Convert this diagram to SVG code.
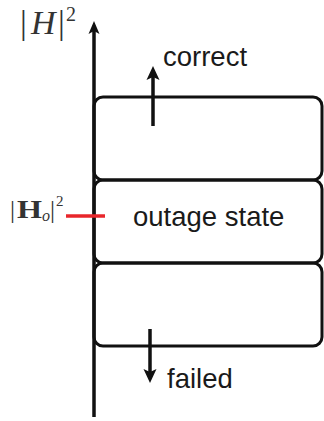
<svg xmlns="http://www.w3.org/2000/svg" width="324" height="421" viewBox="0 0 324 421">
<style>
.box{fill:none;stroke:#111;stroke-width:3}
.ln{stroke:#111;stroke-width:3.5;fill:none}
.hd{fill:#111}
.lbl{font-family:"Liberation Sans",Arial,sans-serif;font-size:27.5px;fill:#1a1a1a}
.m{font-family:"Liberation Serif","Times New Roman",serif;fill:#333}
</style>
<rect width="324" height="421" fill="#fff"/>
<g id="box-correct"><rect class="box" x="94" y="97" width="228" height="83" rx="9"/></g>
<g id="box-outage"><rect class="box" x="94" y="180" width="228" height="83" rx="9"/>
<text class="lbl" x="133" y="226">outage state</text></g>
<g id="box-failed"><rect class="box" x="94" y="263" width="228" height="83" rx="9"/></g>
<g id="connectors">
<line class="ln" x1="94" y1="417" x2="94" y2="30"/>
<polygon class="hd" points="94,21 88.5,34 94,31 99.5,34"/>
<line class="ln" x1="153" y1="126" x2="153" y2="74"/>
<polygon class="hd" points="153,66 146.5,80 153,77 159.5,80"/>
<line class="ln" x1="150" y1="329" x2="150" y2="375"/>
<polygon class="hd" points="150,383 143.5,369 150,372 156.5,369"/>
<line x1="66" y1="216" x2="105" y2="216" stroke="#e8262b" stroke-width="3.5"/>
</g>
<g id="label-correct"><text class="lbl" x="163" y="66">correct</text></g>
<g id="label-failed"><text class="lbl" x="167" y="388">failed</text></g>
<g id="axis-label">
<text class="m" font-size="34"><tspan x="20" y="34">|</tspan><tspan x="31" y="34" font-style="italic">H</tspan><tspan x="58" y="34">|</tspan><tspan x="66" y="21" font-size="20">2</tspan></text>
</g>
<g id="threshold-label">
<text class="m" font-size="25"><tspan x="10" y="218">|</tspan><tspan x="17" y="218" font-weight="bold" textLength="25" lengthAdjust="spacingAndGlyphs">H</tspan><tspan x="42" y="221" font-style="italic" font-size="16">o</tspan><tspan x="50" y="218">|</tspan><tspan x="56" y="206" font-size="15">2</tspan></text>
</g>
</svg>
